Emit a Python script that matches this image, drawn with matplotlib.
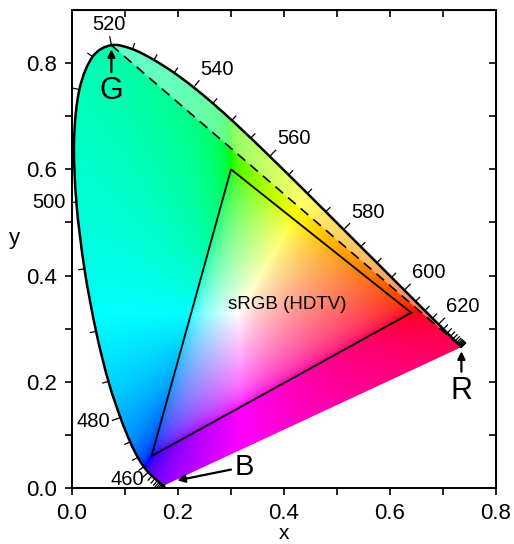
import numpy as np
import matplotlib
matplotlib.use('Agg')
import matplotlib.pyplot as plt
from matplotlib.patches import Polygon, PathPatch
from matplotlib.path import Path

plt.rcParams['font.family'] = ['Liberation Sans', 'DejaVu Sans']

# CIE 1931 spectral locus, 380-700 nm every 5 nm
wavelengths = list(range(380, 705, 5))
locus_x = [0.1741, 0.1740, 0.1738, 0.1736, 0.1733, 0.1730, 0.1726, 0.1721,
           0.1714, 0.1703, 0.1689, 0.1669, 0.1644, 0.1611, 0.1566, 0.1510,
           0.1440, 0.1355, 0.1241, 0.1096, 0.0913, 0.0687, 0.0454, 0.0235,
           0.0082, 0.0039, 0.0139, 0.0389, 0.0743, 0.1142, 0.1547, 0.1929,
           0.2296, 0.2658, 0.3016, 0.3373, 0.3731, 0.4087, 0.4441, 0.4788,
           0.5125, 0.5448, 0.5752, 0.6029, 0.6270, 0.6482, 0.6658, 0.6801,
           0.6915, 0.7006, 0.7079, 0.7140, 0.7190, 0.7230, 0.7260, 0.7283,
           0.7300, 0.7311, 0.7320, 0.7327, 0.7334, 0.7340, 0.7344, 0.7346,
           0.7347]
locus_y = [0.0050, 0.0050, 0.0049, 0.0049, 0.0048, 0.0048, 0.0048, 0.0048,
           0.0051, 0.0058, 0.0069, 0.0086, 0.0109, 0.0138, 0.0177, 0.0227,
           0.0297, 0.0399, 0.0578, 0.0868, 0.1327, 0.2007, 0.2950, 0.4127,
           0.5384, 0.6548, 0.7502, 0.8120, 0.8338, 0.8262, 0.8059, 0.7816,
           0.7543, 0.7243, 0.6923, 0.6589, 0.6245, 0.5896, 0.5547, 0.5202,
           0.4866, 0.4544, 0.4242, 0.3965, 0.3725, 0.3514, 0.3340, 0.3197,
           0.3083, 0.2993, 0.2920, 0.2859, 0.2809, 0.2770, 0.2740, 0.2717,
           0.2700, 0.2689, 0.2680, 0.2673, 0.2666, 0.2660, 0.2656, 0.2654,
           0.2653]
labeled_nm = [460, 480, 500, 520, 540, 560, 580, 600, 620]

# sRGB primaries R, G, B
srgb_x = [0.64, 0.30, 0.15]
srgb_y = [0.33, 0.60, 0.06]
srgb_name = 'sRGB (HDTV)'

xticks = [0.0, 0.2, 0.4, 0.6, 0.8]
yticks = [0.0, 0.2, 0.4, 0.6, 0.8]


def chroma_rgb(xx, yy):
    X = xx / yy
    Z = (1 - xx - yy) / yy
    Y = np.ones_like(xx)
    M = np.array([[3.2406, -1.5372, -0.4986],
                  [-0.9689, 1.8758, 0.0415],
                  [0.0557, -0.2040, 1.0570]])
    rgb = np.stack([X, Y, Z], axis=-1) @ M.T
    # out-of-gamut: desaturate by adding white
    neg = np.clip(-rgb.min(axis=-1, keepdims=True), 0, None)
    rgb = rgb + neg
    rgb /= rgb.max(axis=-1, keepdims=True)
    rgb = np.where(rgb <= 0.0031308, 12.92 * rgb, 1.055 * rgb ** (1 / 2.4) - 0.055)
    return np.clip(rgb, 0, 1)


def smooth_path(px, py, close=False):
    pts = np.column_stack([px, py])
    ext = np.vstack([pts[0], pts, pts[-1]])
    verts = [pts[0]]
    codes = [Path.MOVETO]
    for k in range(len(pts) - 1):
        p0, p1, p2, p3 = ext[k], ext[k + 1], ext[k + 2], ext[k + 3]
        verts += [p1 + (p2 - p0) / 6, p2 - (p3 - p1) / 6, p2]
        codes += [Path.CURVE4] * 3
    if close:
        verts += [pts[0], pts[0]]
        codes += [Path.LINETO, Path.CLOSEPOLY]
    return Path(verts, codes)


fig = plt.figure(figsize=(5.14, 5.44), dpi=100)
ax = fig.add_axes([0.1401, 0.1029, 0.8249, 0.8787])
ax.set_xlim(0, 0.8)
ax.set_ylim(0, 0.9)

lx = np.array(locus_x)
ly = np.array(locus_y)
i520 = wavelengths.index(520)

# coloured fill
gx, gy = np.meshgrid(np.linspace(0, 0.8, 640), np.linspace(0.001, 0.9, 720))
img = chroma_rgb(gx, gy)
im = ax.imshow(img, origin='lower', extent=[0, 0.8, 0.001, 0.9],
               interpolation='bilinear', aspect='auto', zorder=1)
clip = PathPatch(smooth_path(lx, ly, close=True), transform=ax.transData)
im.set_clip_path(clip)

# paler band between the G-R line and the locus
ax.add_patch(PathPatch(smooth_path(lx[i520:], ly[i520:], close=True),
                       facecolor='white', edgecolor='none', alpha=0.4, zorder=2))

# locus outline
ax.add_patch(PathPatch(smooth_path(lx, ly), fill=False, edgecolor='k',
                       lw=1.8, zorder=4))

# ticks along locus
dx = np.gradient(lx)
dy = np.gradient(ly)
nn = np.hypot(dx, dy)
nx, ny = -dy / nn, dx / nn
for i, wl in enumerate(wavelengths):
    L = 0.016 if wl in labeled_nm else 0.011
    ax.plot([lx[i], lx[i] + L * nx[i]], [ly[i], ly[i] + L * ny[i]],
            color='k', lw=0.9, zorder=4)
    if wl in labeled_nm:
        ha = 'left' if nx[i] > 0.35 else ('right' if nx[i] < -0.35 else 'center')
        va = 'bottom' if ny[i] > 0.5 else ('top' if ny[i] < -0.75 else 'center')
        ax.annotate(str(wl), xy=(lx[i] + L * nx[i], ly[i] + L * ny[i]),
                    xytext=(2 * nx[i] + (3 if wl == 460 else 0), 2 * ny[i]),
                    textcoords='offset points',
                    ha=ha, va=va, fontsize=14.5, annotation_clip=False, zorder=5)

# dashed line G (520) to R (700)
ax.plot([lx[i520], lx[-1]], [ly[i520], ly[-1]], color='k', lw=1.2,
        ls=(0, (6, 4)), zorder=4)

# sRGB triangle
ax.add_patch(Polygon(np.column_stack([srgb_x, srgb_y]), closed=True, fill=False,
                     edgecolor='k', lw=1.3, zorder=4))
ax.text(0.406, 0.346, srgb_name, ha='center', va='center', fontsize=13.5, zorder=5)

arrow = dict(arrowstyle='-|>', color='k', lw=1.6, mutation_scale=11,
             shrinkA=1, shrinkB=3)
ax.annotate('G', xy=(lx[i520], ly[i520]), xytext=(lx[i520], 0.747),
            ha='center', va='center', fontsize=22, arrowprops=arrow, zorder=6)
ax.annotate('R', xy=(lx[-1], ly[-1]), xytext=(lx[-1], 0.183),
            ha='center', va='center', fontsize=22, arrowprops=arrow, zorder=6)
bx = lx[0] + 0.03 * (lx[-1] - lx[0])
by = ly[0] + 0.03 * (ly[-1] - ly[0])
ax.annotate('B', xy=(bx, by), xytext=(0.326, 0.040),
            ha='center', va='center', fontsize=21, arrowprops=arrow, zorder=6)

# axes styling
ax.set_xticks(xticks)
ax.set_yticks(yticks)
ax.set_xticklabels([f'{v:.1f}' for v in xticks])
ax.set_yticklabels([f'{v:.1f}' for v in yticks])
ax.set_xticks(np.arange(0.1, 0.8, 0.2), minor=True)
ax.set_yticks(np.arange(0.1, 0.9, 0.2), minor=True)
ax.tick_params(which='both', direction='out', length=5, width=1.2,
               labelsize=16, pad=6)
for s in ax.spines.values():
    s.set_linewidth(1.4)

top = ax.secondary_xaxis('top')
top.set_xticks(np.arange(0.1, 0.8, 0.1))
top.tick_params(direction='in', length=5, width=1.2, labeltop=False)
right = ax.secondary_yaxis('right')
right.set_yticks(np.arange(0.1, 0.9, 0.1))
right.tick_params(direction='in', length=5, width=1.2, labelright=False)

ax.set_xlabel('x', fontsize=15, labelpad=0)
ax.set_ylabel('y', fontsize=16, rotation=0, labelpad=8)

fig.savefig('out.png', dpi=100)
